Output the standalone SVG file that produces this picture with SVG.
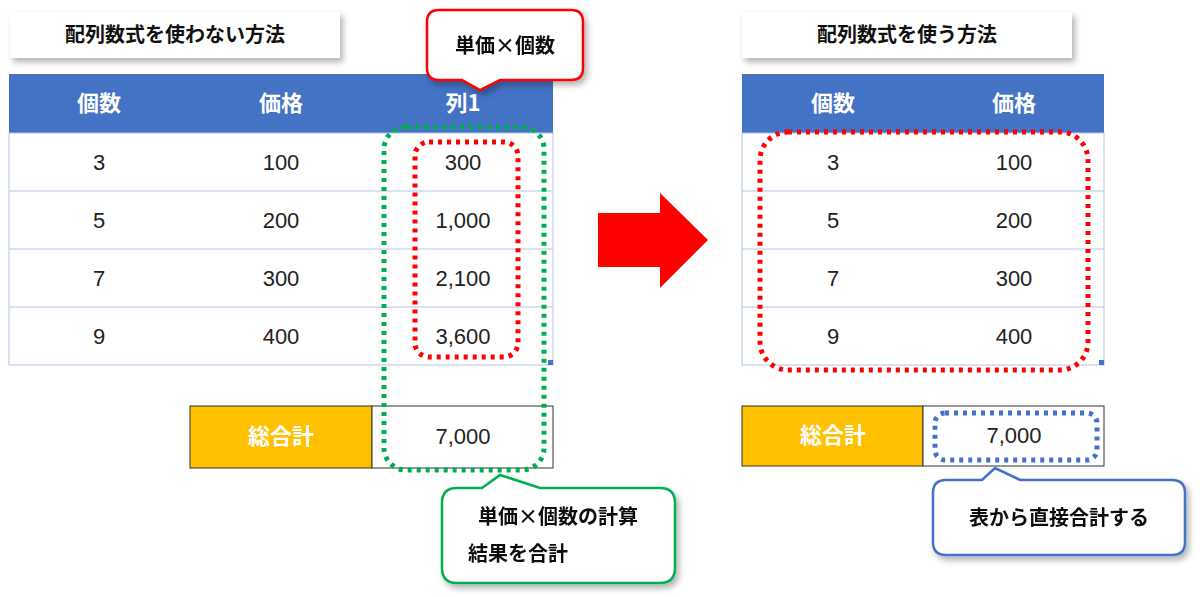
<svg xmlns="http://www.w3.org/2000/svg" width="1200" height="597" viewBox="0 0 1200 597">
<defs>
<filter id="sh" x="-10%" y="-10%" width="130%" height="140%"><feDropShadow dx="3" dy="4" stdDeviation="3" flood-color="#000" flood-opacity="0.3"/></filter>
<style>
text{font-family:"Noto Sans CJK JP","Liberation Sans",sans-serif;text-anchor:middle}
.t{font-size:20px;font-weight:bold;fill:#111}
.h{font-size:22px;font-weight:bold;fill:#fff}
.c{font-size:22px;fill:#222;font-family:"Liberation Sans","Noto Sans CJK JP",sans-serif}
.hd{fill:#4472c4}
.ln{stroke:#b4c6e7;stroke-width:1}
.or{fill:#ffc000;stroke:#333}
.wb{fill:#fff;stroke:#333}
.dot{fill:none;stroke-width:5;stroke-dasharray:4 5}
</style>
</defs>
<g id="title-left"><rect x="10" y="12" width="330" height="46" fill="#fff" filter="url(#sh)"/><text class="t" x="175" y="42">配列数式を使わない方法</text></g>
<g id="title-right"><rect x="742" y="12" width="330" height="46" fill="#fff" filter="url(#sh)"/><text class="t" x="907" y="42">配列数式を使う方法</text></g>

<g id="table-left">
<rect x="9" y="74" width="544" height="59" class="hd"/>
<rect x="9" y="133" width="544" height="232" fill="#fff" class="ln"/>
<line x1="9" y1="191" x2="553" y2="191" class="ln"/><line x1="9" y1="249" x2="553" y2="249" class="ln"/><line x1="9" y1="307" x2="553" y2="307" class="ln"/>
<rect x="548" y="360" width="5" height="5" fill="#4472c4"/>
<text class="h" x="99" y="111">個数</text><text class="h" x="281" y="111">価格</text><text class="h" x="463" y="111">列1</text>
<text class="c" x="99" y="170">3</text><text class="c" x="281" y="170">100</text><text class="c" x="463" y="170">300</text>
<text class="c" x="99" y="228">5</text><text class="c" x="281" y="228">200</text><text class="c" x="463" y="228">1,000</text>
<text class="c" x="99" y="286">7</text><text class="c" x="281" y="286">300</text><text class="c" x="463" y="286">2,100</text>
<text class="c" x="99" y="344">9</text><text class="c" x="281" y="344">400</text><text class="c" x="463" y="344">3,600</text>
</g>
<g id="total-left">
<rect x="190" y="406" width="182" height="62" class="or"/><rect x="372" y="406" width="181" height="62" class="wb"/>
<text class="h" x="281" y="444">総合計</text><text class="c" x="463" y="444">7,000</text>
</g>

<g id="table-right">
<rect x="742" y="74" width="362" height="59" class="hd"/>
<rect x="742" y="133" width="362" height="232" fill="#fff" class="ln"/>
<line x1="742" y1="191" x2="1104" y2="191" class="ln"/><line x1="742" y1="249" x2="1104" y2="249" class="ln"/><line x1="742" y1="307" x2="1104" y2="307" class="ln"/>
<rect x="1099" y="360" width="5" height="5" fill="#4472c4"/>
<text class="h" x="833" y="111">個数</text><text class="h" x="1014" y="111">価格</text>
<text class="c" x="833" y="170">3</text><text class="c" x="1014" y="170">100</text>
<text class="c" x="833" y="228">5</text><text class="c" x="1014" y="228">200</text>
<text class="c" x="833" y="286">7</text><text class="c" x="1014" y="286">300</text>
<text class="c" x="833" y="344">9</text><text class="c" x="1014" y="344">400</text>
</g>
<g id="total-right">
<rect x="742" y="406" width="181" height="60" class="or"/><rect x="923" y="406" width="181" height="60" class="wb"/>
<text class="h" x="833" y="443">総合計</text><text class="c" x="1014" y="443">7,000</text>
</g>

<g id="highlights">
<rect x="415" y="142" width="103" height="215" rx="14" class="dot" stroke="#f00"/>
<rect x="384" y="127" width="160" height="343" rx="22" class="dot" stroke="#00b050"/>
<rect x="760" y="132" width="328" height="238" rx="28" class="dot" stroke="#f00"/>
<rect x="935" y="413" width="162" height="47" rx="10" class="dot" stroke="#4472c4" stroke-width="4"/>
</g>

<g id="arrow"><polygon points="598,213 660,213 660,193 708,240 660,288 660,267 598,267" fill="#f00"/></g>

<g id="callout-red" filter="url(#sh)">
<path d="M439,10 H571 Q583,10 583,22 V68 Q583,80 571,80 H500 L480,90 L462,80 H439 Q427,80 427,68 V22 Q427,10 439,10 Z" fill="#fff" stroke="#f00" stroke-width="2.5"/>
<text class="t" x="505" y="53">単価×個数</text>
</g>
<g id="callout-green" filter="url(#sh)">
<path d="M457,488 H482 L500,475 L540,488 H660 Q675,488 675,503 V568 Q675,583 660,583 H457 Q442,583 442,568 V503 Q442,488 457,488 Z" fill="#fff" stroke="#00b050" stroke-width="2.5"/>
<text class="t" x="558" y="524">単価×個数の計算</text>
<text class="t" x="518" y="561" >結果を合計</text>
</g>
<g id="callout-blue" filter="url(#sh)">
<path d="M946,480 H982 L995,468 L1020,480 H1172 Q1185,480 1185,493 V542 Q1185,555 1172,555 H946 Q933,555 933,542 V493 Q933,480 946,480 Z" fill="#fff" stroke="#4472c4" stroke-width="2.5"/>
<text class="t" x="1059" y="525">表から直接合計する</text>
</g>
<g id="connectors"/>
</svg>
